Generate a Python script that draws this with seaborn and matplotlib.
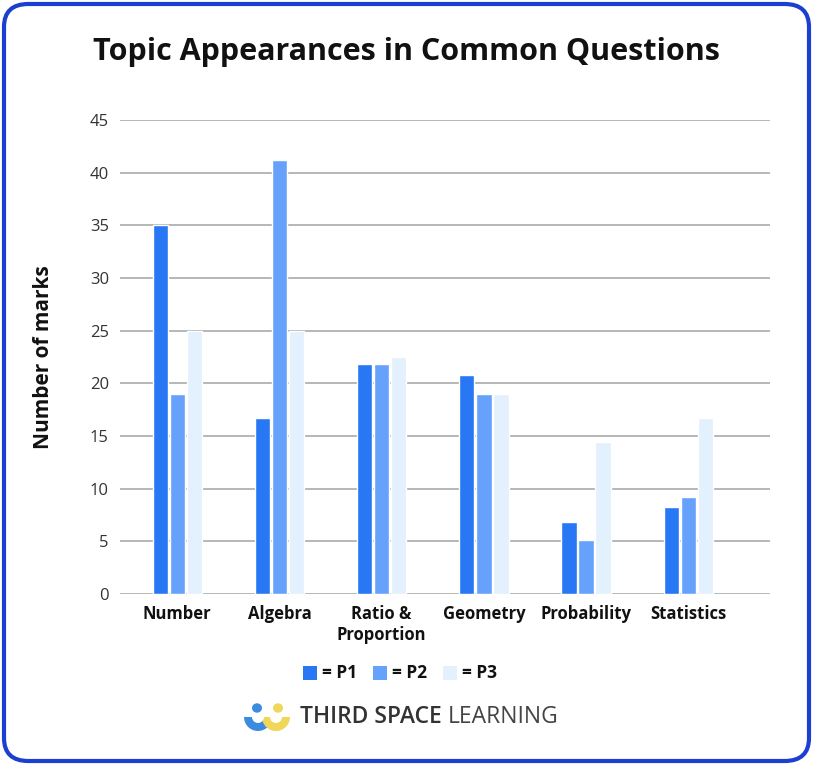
import matplotlib
matplotlib.use("Agg")
import matplotlib.pyplot as plt
import seaborn as sns
import pandas as pd
from matplotlib.patches import FancyBboxPatch, Rectangle, Circle, Wedge

categories = ["Number", "Algebra", "Ratio &\nProportion", "Geometry", "Probability", "Statistics"]
p1 = [35, 16.7, 21.8, 20.8, 6.8, 8.3]
p2 = [19, 41.2, 21.8, 19, 5.1, 9.2]
p3 = [25, 25, 22.5, 19, 14.4, 16.7]
series = ["P1", "P2", "P3"]
colors = ["#2878F5", "#66A1FB", "#E3F0FD"]
yticks = [0, 5, 10, 15, 20, 25, 30, 35, 40, 45]

df = pd.DataFrame({
    "topic": categories * 3,
    "paper": ["P1"] * 6 + ["P2"] * 6 + ["P3"] * 6,
    "marks": p1 + p2 + p3,
})

sns.set_theme(style="white")
plt.rcParams['font.family'] = ['Open Sans', 'DejaVu Sans']

fig = plt.figure(figsize=(8.13, 7.65), dpi=100)
ax = fig.add_axes([120/813, 1-594/765, 650/813, 474/765])

sns.barplot(data=df, x="topic", y="marks", hue="paper", palette=colors,
            width=0.5, gap=0.1, ax=ax, legend=False, saturation=1)

ax.set_ylim(0, 45)
ax.set_yticks(yticks)
ax.set_yticklabels([str(t) for t in yticks], fontsize=12, color="#333333")
ax.set_xticks(range(len(categories)))
ax.set_xticklabels(categories, fontsize=12, fontweight="bold", color="#111111", linespacing=1.2)
ax.tick_params(axis="both", length=0, pad=8)
ax.grid(axis="y", color="#aaaaaa", linewidth=1.2)
ax.set_axisbelow(True)
for s in ax.spines.values():
    s.set_visible(False)
ax.set_xlabel("")
ax.set_ylabel("Number of marks", fontsize=15, fontweight="bold", color="#111111", labelpad=26)
ax.set_xlim(-0.56, 5.8)

fig.text(0.5, 1-52/765, "Topic Appearances in Common Questions", ha="center", va="center",
         fontsize=22, fontweight="bold", color="#111111")

# legend
lx = [303, 373, 443]
for x0, lab, c in zip(lx, series, colors):
    fig.patches.append(Rectangle((x0/813, 1-680/765), 14/813, 14/765, transform=fig.transFigure,
                                 facecolor=c, edgecolor="none"))
    fig.text((x0+19)/813, 1-673/765, "= " + lab, ha="left", va="center", fontsize=12.5,
             fontweight="bold", color="#111111")

# logo
def fx(x): return x/813
def fy(y): return 1-y/765
fig.patches.append(Circle((fx(257), fy(708)), 5/813, transform=fig.transFigure, facecolor="#3C8BE0", edgecolor="none"))
fig.patches.append(Circle((fx(278), fy(708)), 5/813, transform=fig.transFigure, facecolor="#F0D75A", edgecolor="none"))
ax2 = fig.add_axes([fx(240), fy(733), 55/813, 20/765])
ax2.set_xlim(0, 55); ax2.set_ylim(0, 20); ax2.axis("off")
ax2.add_patch(Wedge((18, 16), 14, 180, 360, facecolor="#3C8BE0", edgecolor="none"))
ax2.add_patch(Wedge((36, 16), 14, 180, 360, facecolor="#F0D75A", edgecolor="none"))
ax2.add_patch(Wedge((18, 16), 6, 180, 360, facecolor="white", edgecolor="none"))
ax2.add_patch(Wedge((36, 16), 6, 180, 360, facecolor="white", edgecolor="none"))
fig.text(fx(300), fy(717), "THIRD SPACE", ha="left", va="center", fontsize=16.5, color="#333333", fontweight="semibold")
fig.text(fx(448), fy(717), "LEARNING", ha="left", va="center", fontsize=16.5, color="#444444")

# border
fig.patches.append(FancyBboxPatch((4/813, 4/765), 805/813, 757/765, boxstyle="round,pad=0,rounding_size=0.03",
                                  transform=fig.transFigure, facecolor="none", edgecolor="#1B3FD0", linewidth=3))

fig.savefig("out.png", dpi=100)
